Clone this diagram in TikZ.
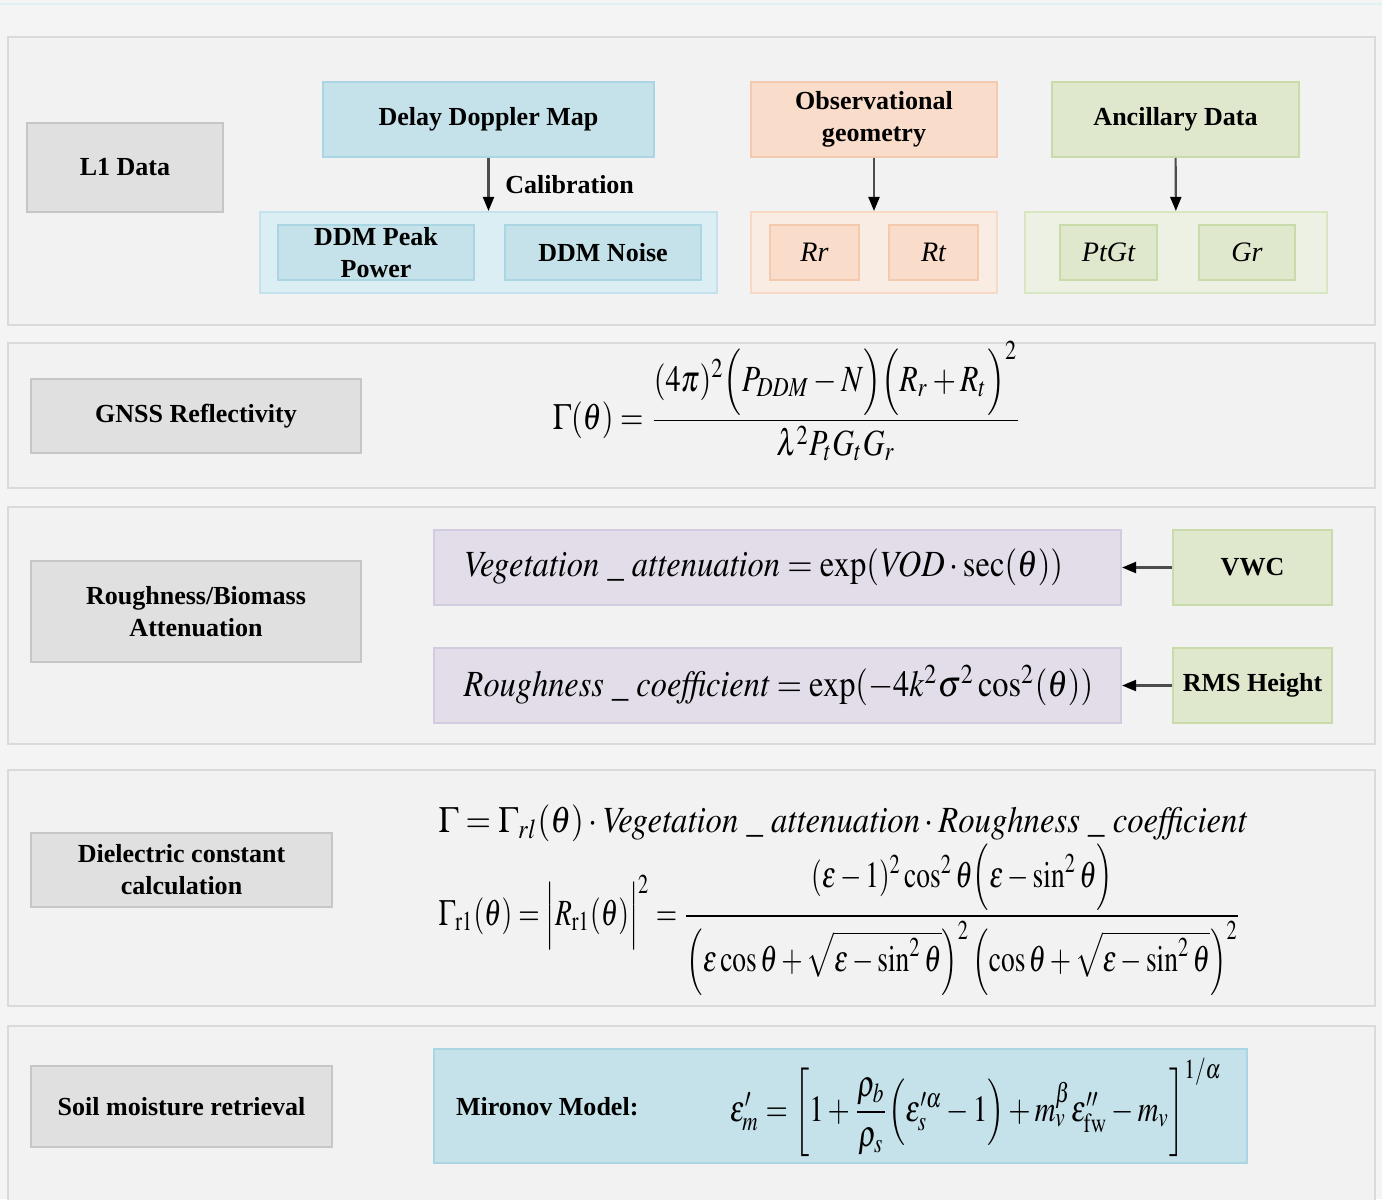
\documentclass[tikz,border=0pt]{standalone}
\usepackage{amsmath}
\usepackage{graphicx}
\usepackage{mathptmx}
\usepackage{fontspec}
\setmainfont{Liberation Serif}
\usetikzlibrary{arrows.meta}
\definecolor{pagebg}{HTML}{F4F4F4}
\definecolor{panelfill}{HTML}{F2F2F2}
\definecolor{paneldraw}{HTML}{DADADA}
\definecolor{greyfill}{HTML}{E0E0E0}
\definecolor{greydraw}{HTML}{C6C6C6}
\definecolor{bluefill}{HTML}{C5E2EA}
\definecolor{bluedraw}{HTML}{A9D6E2}
\definecolor{bluegroup}{HTML}{DAEEF3}
\definecolor{peachfill}{HTML}{F9DCC9}
\definecolor{peachdraw}{HTML}{F5C9AD}
\definecolor{peachgroup}{HTML}{F8ECE3}
\definecolor{greenfill}{HTML}{DFE7CD}
\definecolor{greendraw}{HTML}{C8DBA8}
\definecolor{greengroup}{HTML}{EDF1E4}
\definecolor{lilacfill}{HTML}{E2DDE9}
\definecolor{lilacdraw}{HTML}{D3CCE0}
% squeeze a formula to a given width, keep its height
\newcommand{\fitwide}[2]{\resizebox{#1}{\height}{#2}}
\tikzset{
  wh/.style 2 args={minimum width=#1*0.01cm, minimum height=#2*0.01cm},
  panel/.style={fill=panelfill, draw=paneldraw, line width=0.6pt},
  basebox/.style={rectangle, inner sep=0pt, line width=0.6pt, align=center,
    font=\fontsize{7.4}{9.1}\selectfont\bfseries},
  greybox/.style={basebox, fill=greyfill, draw=greydraw},
  bluebox/.style={basebox, fill=bluefill, draw=bluedraw},
  bluegrp/.style={basebox, fill=bluegroup, draw=bluedraw!70},
  peachbox/.style={basebox, fill=peachfill, draw=peachdraw},
  peachgrp/.style={basebox, fill=peachgroup, draw=peachdraw!70},
  greenbox/.style={basebox, fill=greenfill, draw=greendraw},
  greengrp/.style={basebox, fill=greengroup, draw=greendraw!70},
  lilacbox/.style={basebox, fill=lilacfill, draw=lilacdraw},
  varlabel/.style={font=\fontsize{8}{10}\selectfont\itshape\mdseries},
  formula/.style={inner sep=0pt, font=\fontsize{10.5}{12}\selectfont},
  flow/.style={draw=black!70, line width=0.6pt, -{Triangle[length=1.4mm, width=1.1mm, color=black]}},
}

\begin{document}
\begin{tikzpicture}[x=0.01cm, y=-0.01cm]
\useasboundingbox (0,0) rectangle (1382,1199);
\fill[pagebg] (0,0) rectangle (1382,1199);
\draw[bluedraw!35, line width=0.8pt] (0,4) -- (1382,4);
% panels
\draw[panel] (8,37) rectangle (1375,325);
\draw[panel] (8,343) rectangle (1375,488);
\draw[panel] (8,507) rectangle (1375,744);
\draw[panel] (8,770) rectangle (1375,1006);
\draw[panel] (8,1026) rectangle (1375,1215);
% left labels
\node[greybox, wh={196}{89}] (l1) at (125,167.5) {L1 Data};
\node[greybox, wh={330}{74}] (gnss) at (196,416) {GNSS Reflectivity};
\node[greybox, wh={330}{101}] (atten) at (196,611.5) {Roughness/Biomass\\Attenuation};
\node[greybox, wh={301}{74}] (diel) at (181.5,870) {Dielectric constant\\calculation};
\node[greybox, wh={301}{81}] (soil) at (181.5,1106.5) {Soil moisture retrieval};
% L1 data sources
\node[bluebox, wh={331}{75}] (ddm) at (488.5,119.5) {Delay Doppler Map};
\node[bluegrp, wh={457}{81}] (ddmgrp) at (488.5,252.5) {};
\node[bluebox, wh={196}{55}] (peak) at (376,252.5) {DDM Peak\\Power};
\node[bluebox, wh={196}{55}] (noise) at (603,252.5) {DDM Noise};
\node[peachbox, wh={246}{75}] (obs) at (874,119.5) {Observational\\geometry};
\node[peachgrp, wh={246}{81}] (obsgrp) at (874,252.5) {};
\node[peachbox, varlabel, wh={89}{55}] (rr) at (814.5,252.5) {Rr};
\node[peachbox, varlabel, wh={89}{55}] (rt) at (933.5,252.5) {Rt};
\node[greenbox, wh={247}{75}] (anc) at (1175.5,119.5) {Ancillary Data};
\node[greengrp, wh={302}{81}] (ancgrp) at (1176,252.5) {};
\node[greenbox, varlabel, wh={97}{55}] (ptgt) at (1108.5,252.5) {PtGt};
\node[greenbox, varlabel, wh={96}{55}] (gr) at (1247,252.5) {Gr};
\draw[flow] (ddm) -- (ddmgrp) node[midway, right=0.04cm, font=\fontsize{7.4}{9.1}\selectfont\bfseries] (calib) {Calibration};
\draw[flow] (obs) -- (obsgrp);
\draw[flow] (anc) -- (ancgrp);
% reflectivity
\node[formula] (gammaeq) at (787,401)
  {\fitwide{4.68cm}{$\Gamma(\theta)=\dfrac{(4\pi)^2\Bigl(P_{DDM}-N\Bigr)\Bigl(R_r+R_t\Bigr)^2}{\lambda^2P_tG_tG_r}$}};
% attenuation terms
\node[lilacbox, wh={687}{75}] (veg) at (777.5,567.5) {};
\node[lilacbox, wh={687}{75}] (rough) at (777.5,685.5) {};
\node[formula, anchor=west] (vegeq) at (463,567.5)
  {\fitwide{5.99cm}{$\mathit{Vegetation}\ \_\ \mathit{attenuation}=\exp(\mathit{VOD}\cdot\sec(\theta))$}};
\node[formula, anchor=west] (roughq) at (463,685.5)
  {\fitwide{6.29cm}{$\mathit{Roughness}\ \_\ \mathit{coefficient}=\exp(-4k^2\sigma^2\cos^2(\theta))$}};
\node[greenbox, wh={159}{75}] (vwc) at (1252.5,567.5) {VWC};
\node[greenbox, wh={159}{75}] (rms) at (1252.5,685.5) {RMS Height};
\draw[flow] (vwc) -- (veg);
\draw[flow] (rms) -- (rough);
% dielectric constant
\node[formula, anchor=west] (gammatot) at (438,823)
  {\fitwide{8.08cm}{$\Gamma=\Gamma_{rl}(\theta)\cdot \mathit{Vegetation}\ \_\ \mathit{attenuation}\cdot \mathit{Roughness}\ \_\ \mathit{coefficient}$}};
\node[formula, anchor=west] (fresnel) at (438,920)
  {\fitwide{8.02cm}{$\Gamma_{\mathrm{r}1}(\theta)=\Bigl|R_{\mathrm{r}1}(\theta)\Bigr|^2=\dfrac{(\varepsilon-1)^2\cos^2\theta\Bigl(\varepsilon-\sin^2\theta\Bigr)}{\left(\varepsilon\cos\theta+\sqrt{\varepsilon-\sin^2\theta}\right)^2\left(\cos\theta+\sqrt{\varepsilon-\sin^2\theta}\right)^2}$}};
% soil moisture
\node[bluebox, wh={813}{114}] (mironov) at (840.5,1106) {};
\node[basebox, anchor=west] (mirlabel) at (455,1107) {Mironov Model:};
\node[formula] (mironoveq) at (976,1107)
  {\fitwide{4.92cm}{$\varepsilon_m'=\left[1+\dfrac{\rho_b}{\rho_s}\Bigl(\varepsilon_s^{\prime\alpha}-1\Bigr)+m_v^{\beta}\varepsilon_{\mathrm{fw}}''-m_v\right]^{1/\alpha}$}};
\end{tikzpicture}
\end{document}
